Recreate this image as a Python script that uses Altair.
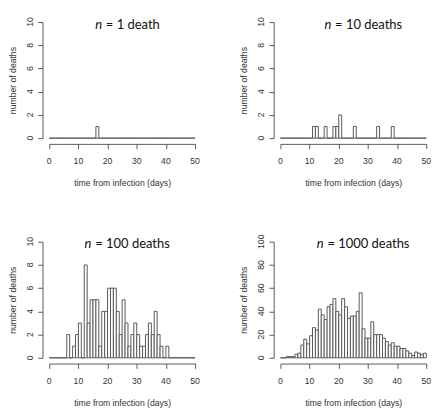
import altair as alt
import pandas as pd

# bin starts (days from infection), 1-day bins
days = [0, 1, 2, 3, 4, 5, 6, 7, 8, 9, 10, 11, 12, 13, 14, 15, 16, 17, 18, 19,
        20, 21, 22, 23, 24, 25, 26, 27, 28, 29, 30, 31, 32, 33, 34, 35, 36, 37, 38, 39,
        40, 41, 42, 43, 44, 45, 46, 47, 48, 49]

deaths_1 = [0, 0, 0, 0, 0, 0, 0, 0, 0, 0, 0, 0, 0, 0, 0, 0, 1, 0, 0, 0,
            0, 0, 0, 0, 0, 0, 0, 0, 0, 0, 0, 0, 0, 0, 0, 0, 0, 0, 0, 0,
            0, 0, 0, 0, 0, 0, 0, 0, 0, 0]

deaths_10 = [0, 0, 0, 0, 0, 0, 0, 0, 0, 0, 0, 1, 1, 0, 0, 1, 0, 0, 1, 1,
             2, 0, 0, 0, 0, 1, 0, 0, 0, 0, 0, 0, 0, 1, 0, 0, 0, 0, 1, 0,
             0, 0, 0, 0, 0, 0, 0, 0, 0, 0]

deaths_100 = [0, 0, 0, 0, 0, 0, 2, 0, 1, 2, 3, 0, 8, 3, 5, 5, 5, 1, 4, 4,
              6, 6, 6, 4, 2, 5, 3, 1, 2, 3, 2, 1, 1, 2, 3, 2, 4, 2, 1, 0,
              1, 0, 0, 0, 0, 0, 0, 0, 0, 0]

deaths_1000 = [0, 0, 1, 1, 1, 3, 4, 11, 16, 12, 19, 26, 24, 42, 37, 33, 44, 46, 51, 40,
               37, 51, 44, 34, 36, 36, 40, 56, 25, 17, 17, 31, 20, 20, 20, 17, 14, 11, 13, 10,
               10, 8, 8, 6, 4, 2, 5, 4, 3, 4]

x_ticks = [0, 10, 20, 30, 40, 50]
y_ticks_small = [0, 2, 4, 6, 8, 10]
y_ticks_large = [0, 20, 40, 60, 80, 100]

panel_labels = ["= 1 death", "= 10 deaths", "= 100 deaths", "= 1000 deaths"]

W, H = 152, 121
LINE = "#555555"
TEXT = "#333333"
AXFONT = "Liberation Sans"


def panel(counts, ymax, yticks, label, n_end, rest_start):
    df = pd.DataFrame({"start": days,
                       "end": [d + 1 for d in days],
                       "count": counts})
    xscale = alt.Scale(domain=[0, 50], nice=False, zero=False)
    yscale = alt.Scale(domain=[0, ymax], nice=False)
    xaxis = alt.Axis(values=x_ticks, title="time from infection (days)",
                     offset=6, tickSize=5, labels=False, titlePadding=31, grid=False)
    yaxis = alt.Axis(values=yticks, title="number of deaths", offset=7,
                     tickSize=5, labels=False, titlePadding=21, grid=False)
    # zero-count bins draw as flat outlines, forming the baseline from 0 to 50
    bars = alt.Chart(df).mark_rect(
        fill="white", stroke=LINE, strokeWidth=1
    ).encode(
        x=alt.X("start:Q", scale=xscale, axis=xaxis),
        x2="end:Q",
        y=alt.Y("count:Q", scale=yscale, axis=yaxis),
        y2=alt.Y2("zero:Q"),
    ).transform_calculate(zero="0")

    xlab = alt.Chart(pd.DataFrame({"tick": x_ticks})).mark_text(
        font=AXFONT, fontSize=9, color=TEXT, align="center", baseline="middle"
    ).encode(
        x=alt.X("tick:Q", scale=xscale, axis=xaxis),
        y=alt.value(H + 24),
        text=alt.Text("tick:Q"),
    )
    ylab = alt.Chart(pd.DataFrame({"tick": yticks})).mark_text(
        font=AXFONT, fontSize=9, color=TEXT, align="center", baseline="alphabetic",
        angle=270
    ).encode(
        y=alt.Y("tick:Q", scale=yscale, axis=yaxis),
        x=alt.value(-17),
        text=alt.Text("tick:Q"),
    )

    one = alt.Data(values=[{}])
    n_txt = alt.Chart(one).mark_text(
        text="n", font="Lato", fontSize=13.5, fontStyle="italic", align="right",
        baseline="middle", color="#111111"
    ).encode(x=alt.value(n_end), y=alt.value(3))
    rest_txt = alt.Chart(one).mark_text(
        text=label, font="Lato", fontSize=13.5, align="left",
        baseline="middle", color="#111111"
    ).encode(x=alt.value(rest_start), y=alt.value(3))
    return alt.layer(bars, xlab, ylab, n_txt, rest_txt).properties(width=W, height=H)


p1 = panel(deaths_1, 10, y_ticks_small, panel_labels[0], 55, 59)
p2 = panel(deaths_10, 10, y_ticks_small, panel_labels[1], 53, 57)
p3 = panel(deaths_100, 10, y_ticks_small, panel_labels[2], 44, 48)
p4 = panel(deaths_1000, 100, y_ticks_large, panel_labels[3], 45, 49)

chart = alt.vconcat(
    alt.hconcat(p1, p2, spacing=40),
    alt.hconcat(p3, p4, spacing=40),
    spacing=48,
).properties(
    padding=0
).configure_view(stroke=None).configure_axis(
    domainColor=LINE, tickColor=LINE, labelColor=TEXT, titleColor=TEXT,
    labelFont=AXFONT, titleFont=AXFONT, labelFontSize=9, titleFontSize=9,
    titleFontWeight="normal", domainWidth=1, tickWidth=1
)

chart.save("out.html", embed_options={"renderer": "svg", "actions": False})
